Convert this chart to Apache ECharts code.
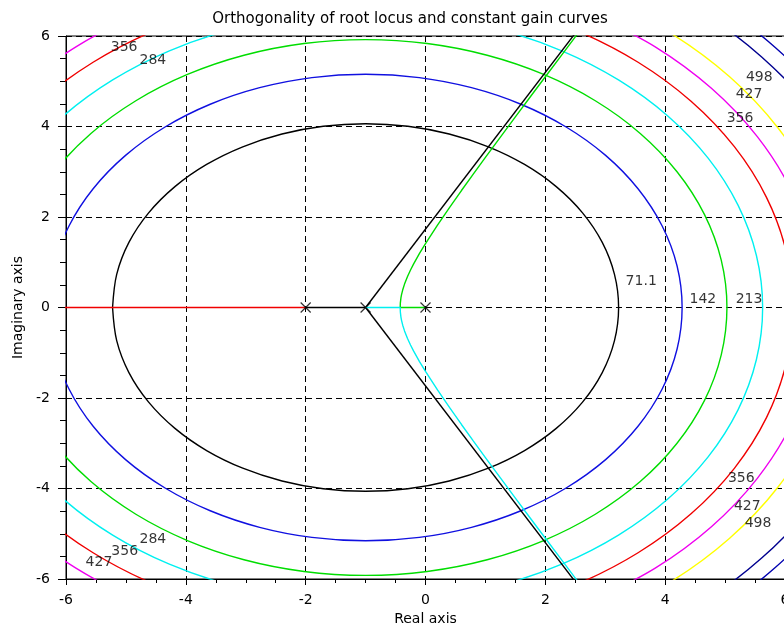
<!DOCTYPE html>
<html>
<head>
<meta charset="utf-8">
<script src="https://cdn.jsdelivr.net/npm/echarts/dist/echarts.min.js"></script>
<style>
html,body{margin:0;padding:0;background:#fff;}
#chart{width:784px;height:634px;}
</style>
</head>
<body>
<div id="chart"></div>
<script>
// ---------- data ----------
const xTicks = [-6, -4, -2, 0, 2, 4, 6];
const yTicks = [-6, -4, -2, 0, 2, 4, 6];

// constant gain curves |s(s+1)(s+2)| = K, each as a list of arcs of [re, im] points
const gain71 = [[[-5.223,0],[-5.154,0.732],[-4.950,1.438],[-4.621,2.091],[-4.182,2.671],[-3.653,3.161],[-3.050,3.551],[-2.395,3.834],[-1.706,4.005],[-1.000,4.062],[-0.294,4.005],[0.395,3.834],[1.050,3.551],[1.653,3.161],[2.182,2.671],[2.621,2.091],[2.950,1.438],[3.154,0.732],[3.223,0],[3.154,-0.732],[2.950,-1.438],[2.621,-2.091],[2.182,-2.671],[1.653,-3.161],[1.050,-3.551],[0.395,-3.834],[-0.294,-4.005],[-1.000,-4.062],[-1.706,-4.005],[-2.395,-3.834],[-3.050,-3.551],[-3.653,-3.161],[-4.182,-2.671],[-4.621,-2.091],[-4.950,-1.438],[-5.154,-0.732],[-5.223,0]]];
const gain142 = [[[-6.283,0],[-6.199,0.917],[-5.950,1.802],[-5.547,2.625],[-5.006,3.362],[-4.347,3.989],[-3.593,4.492],[-2.768,4.858],[-1.896,5.081],[-1.000,5.156],[-0.104,5.081],[0.768,4.858],[1.593,4.492],[2.347,3.989],[3.006,3.362],[3.547,2.625],[3.950,1.802],[4.199,0.917],[4.283,0],[4.199,-0.917],[3.950,-1.802],[3.547,-2.625],[3.006,-3.362],[2.347,-3.989],[1.593,-4.492],[0.768,-4.858],[-0.104,-5.081],[-1.000,-5.156],[-1.896,-5.081],[-2.768,-4.858],[-3.593,-4.492],[-4.347,-3.989],[-5.006,-3.362],[-5.547,-2.625],[-5.950,-1.802],[-6.199,-0.917],[-6.283,0]]];
const gain213 = [[[-7.031,0],[-6.936,1.046],[-6.655,2.058],[-6.198,3.001],[-5.584,3.847],[-4.834,4.569],[-3.973,5.150],[-3.029,5.574],[-2.028,5.833],[-1.000,5.919],[0.028,5.833],[1.029,5.574],[1.973,5.150],[2.834,4.569],[3.584,3.847],[4.198,3.001],[4.655,2.058],[4.936,1.046],[5.031,0],[4.936,-1.046],[4.655,-2.058],[4.198,-3.001],[3.584,-3.847],[2.834,-4.569],[1.973,-5.150],[1.029,-5.574],[0.028,-5.833],[-1.000,-5.919],[-2.028,-5.833],[-3.029,-5.574],[-3.973,-5.150],[-4.834,-4.569],[-5.584,-3.847],[-6.198,-3.001],[-6.655,-2.058],[-6.936,-1.046],[-7.031,0]]];
const gain284 = [[[-7.627,0],[-7.523,1.150],[-7.216,2.262],[-6.717,3.301],[-6.044,4.233],[-5.221,5.030],[-4.275,5.673],[-3.236,6.143],[-2.133,6.429],[-1.000,6.526],[0.133,6.429],[1.236,6.143],[2.275,5.673],[3.221,5.030],[4.044,4.233],[4.717,3.301],[5.216,2.262],[5.523,1.150],[5.627,0],[5.523,-1.150],[5.216,-2.262],[4.717,-3.301],[4.044,-4.233],[3.221,-5.030],[2.275,-5.673],[1.236,-6.143],[0.133,-6.429],[-1.000,-6.526],[-2.133,-6.429],[-3.236,-6.143],[-4.275,-5.673],[-5.221,-5.030],[-6.044,-4.233],[-6.717,-3.301],[-7.216,-2.262],[-7.523,-1.150],[-7.627,0]]];
const gain356 = [
  [[1.410,6.623],[2.530,6.114],[3.548,5.420],[4.432,4.559],[5.155,3.554],[5.691,2.435],[6.020,1.238],[6.131,0],[6.020,-1.238],[5.691,-2.435],[5.155,-3.554],[4.432,-4.559],[3.548,-5.420],[2.530,-6.114],[1.410,-6.623]],
  [[-3.410,6.623],[-4.530,6.114],[-5.548,5.420],[-6.432,4.559],[-7.155,3.554]],
  [[-3.410,-6.623],[-4.530,-6.114],[-5.548,-5.420],[-6.432,-4.559],[-7.155,-3.554]]
];
const gain427 = [
  [[2.753,6.500],[3.834,5.760],[4.772,4.844],[5.538,3.775],[6.106,2.586],[6.455,1.314],[6.572,0],[6.455,-1.314],[6.106,-2.586],[5.538,-3.775],[4.772,-4.844],[3.834,-5.760],[2.753,-6.500]],
  [[-3.563,7.042],[-4.753,6.500],[-5.834,5.760],[-6.772,4.844],[-7.538,3.775]],
  [[-3.563,-7.042],[-4.753,-6.500],[-5.834,-5.760],[-6.772,-4.844],[-7.538,-3.775]]
];
const gain498 = [
  [[2.952,6.845],[4.089,6.065],[5.076,5.099],[5.881,3.973],[6.477,2.721],[6.843,1.383],[6.967,0],[6.843,-1.383],[6.477,-2.721],[5.881,-3.973],[5.076,-5.099],[4.089,-6.065],[2.952,-6.845]]
];
const gain640 = [
  [[4.535,6.596],[5.093,6.093],[5.606,5.543],[6.070,4.950],[6.479,4.318]],
  [[4.535,-6.596],[5.093,-6.093],[5.606,-5.543],[6.070,-4.950],[6.479,-4.318]]
];
const gain711 = [
  [[4.733,6.832],[5.311,6.311],[5.842,5.741],[6.322,5.127],[6.745,4.472]],
  [[4.733,-6.832],[5.311,-6.311],[5.842,-5.741],[6.322,-5.127],[6.745,-4.472]]
];

// root locus branches
const locusRed = [[-6.5,0],[-4,0],[-2,0]];
const locusGreen = [[0,0],[-0.4226,0],[-0.42,0.096],[-0.41,0.211],[-0.40,0.283],[-0.38,0.391],[-0.35,0.517],[-0.30,0.686],[-0.25,0.829],[-0.20,0.959],[-0.10,1.196],[0,1.414],[0.2,1.822],[0.4,2.209],[0.6,2.585],[0.8,2.953],[1.0,3.317],[1.25,3.767],[1.5,4.213],[1.75,4.657],[2.0,5.099],[2.25,5.540],[2.5,5.979],[2.75,6.418]];
const locusCyan = [[-1,0],[-0.4226,0],[-0.42,-0.096],[-0.41,-0.211],[-0.40,-0.283],[-0.38,-0.391],[-0.35,-0.517],[-0.30,-0.686],[-0.25,-0.829],[-0.20,-0.959],[-0.10,-1.196],[0,-1.414],[0.2,-1.822],[0.4,-2.209],[0.6,-2.585],[0.8,-2.953],[1.0,-3.317],[1.25,-3.767],[1.5,-4.213],[1.75,-4.657],[2.0,-5.099],[2.25,-5.540],[2.5,-5.979],[2.75,-6.418]];
const asymptotes = [
  [[-1,0],[3,6.928]],
  [[-1,0],[3,-6.928]],
  [[-1,0],[-2,0]]
];
const poles = [[-2,0],[-1,0],[0,0]];

// gain labels: [re, im, text]
const gainLabels = [
  [3.60,0.57,'71.1'],[4.63,0.18,'142'],[5.40,0.18,'213'],
  [-5.03,5.75,'356'],[-4.55,5.46,'284'],
  [5.57,5.09,'498'],[5.40,4.71,'427'],[5.25,4.18,'356'],
  [5.27,-3.78,'356'],[5.37,-4.40,'427'],[5.55,-4.76,'498'],
  [-4.55,-5.13,'284'],[-5.02,-5.40,'356'],[-5.45,-5.64,'427']
];

// ---------- styles ----------
const FONT = 'DejaVu Sans';
const LW = 1.4;
const contourSets = [
  {arcs: gain71, color: '#000000'},
  {arcs: gain142, color: '#1010e0'},
  {arcs: gain213, color: '#00dd00'},
  {arcs: gain284, color: '#00f0f0'},
  {arcs: gain356, color: '#f00000'},
  {arcs: gain427, color: '#f000f0'},
  {arcs: gain498, color: '#ffff00'},
  {arcs: gain640, color: '#00008f'},
  {arcs: gain711, color: '#0000b0'}
];

function lineSeries(data, color, smooth, z) {
  return {
    type: 'line', data: data, showSymbol: false, symbol: 'none',
    smooth: smooth || false, clip: true, silent: true,
    lineStyle: {color: color, width: LW}, itemStyle: {color: color},
    emphasis: {disabled: true},
    animation: false, z: z || 3
  };
}

const series = [];
contourSets.forEach(c => c.arcs.forEach(a => series.push(lineSeries(a, c.color, 0.33, 3))));
asymptotes.forEach(a => series.push(lineSeries(a, '#000000', false, 8)));
series.push(lineSeries(locusRed, '#f00000', false, 10));
series.push(lineSeries(locusGreen, '#00dd00', false, 10));
series.push(lineSeries(locusCyan, '#00f0f0', false, 10));
series.push({
  type: 'scatter', data: poles, symbol: 'path://M0,0L10,10M10,0L0,10', symbolSize: 10,
  itemStyle: {color: 'rgba(0,0,0,0)', borderColor: '#000', borderWidth: 1.2},
  silent: true, animation: false, z: 12
});
series.push({
  type: 'scatter', data: gainLabels, symbolSize: 1,
  itemStyle: {color: 'rgba(0,0,0,0)'},
  label: {show: true, position: 'inside', formatter: p => p.value[2], color: '#000', fontSize: 14, fontFamily: FONT},
  silent: true, animation: false, z: 12
});

const axisCommon = {
  type: 'value', min: -6, max: 6, interval: 2, z: 0,
  axisLine: {show: true, onZero: false, lineStyle: {color: '#000', width: 1}},
  splitLine: {show: true, lineStyle: {color: '#000', width: 1, type: [6, 4]}},
  nameTextStyle: {color: '#000', fontSize: 14, fontFamily: FONT}
};

const option = {
  backgroundColor: '#fff',
  animation: false,
  title: {
    text: 'Orthogonality of root locus and constant gain curves',
    left: 405, top: 7, textAlign: 'center',
    textStyle: {color: '#000', fontSize: 15, fontWeight: 'normal', fontFamily: FONT}
  },
  grid: {left: 66, top: 36, width: 719, height: 543, show: true, borderColor: '#000', borderWidth: 1, backgroundColor: 'rgba(0,0,0,0)', containLabel: false, outerBoundsMode: 'none'},
  xAxis: Object.assign({}, axisCommon, {
    position: 'bottom',
    name: 'Real axis', nameLocation: 'middle', nameGap: 32,
    axisTick: {show: true, length: 6, inside: false, lineStyle: {color: '#000'}},
    minorTick: {show: true, splitNumber: 4, length: 4, lineStyle: {color: '#000'}},
    axisLabel: {color: '#000', fontSize: 14, fontFamily: FONT, margin: 14, formatter: v => xTicks.includes(v) ? String(v) : ''}
  }),
  yAxis: Object.assign({}, axisCommon, {
    position: 'left',
    name: 'Imaginary axis', nameLocation: 'middle', nameGap: 40, nameRotate: 90,
    axisTick: {show: true, length: 8, inside: false, lineStyle: {color: '#000'}},
    minorTick: {show: true, splitNumber: 4, length: 6, lineStyle: {color: '#000'}},
    axisLabel: {color: '#000', fontSize: 14, fontFamily: FONT, margin: 16, formatter: v => yTicks.includes(v) ? String(v) : ''}
  }),
  series: series
};

const chart = echarts.init(document.getElementById('chart'), null, {renderer: 'canvas'});
chart.setOption(option);
</script>
</body>
</html>
